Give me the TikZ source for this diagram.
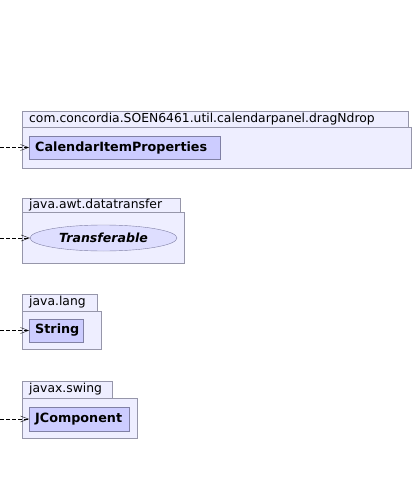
\documentclass[tikz,border=0pt]{standalone}
\usepackage{xcolor}
\usepackage{fontspec}
\setmainfont{DejaVu Sans}
\usetikzlibrary{arrows.meta,shapes.geometric}

\definecolor{pkgfill}{RGB}{238,238,255}
\definecolor{pkgline}{RGB}{150,150,170}
\definecolor{clsfill}{RGB}{204,204,255}
\definecolor{clsline}{RGB}{128,128,165}
\definecolor{ififill}{RGB}{222,222,255}

\tikzset{
  pkgtab/.style={draw=pkgline, fill=pkgfill},
  pkgbody/.style={draw=pkgline, fill=pkgfill},
  pkglabel/.style={inner sep=0pt, anchor=west, font=\fontsize{12.4}{13}\selectfont},
  classbox/.style={draw=clsline, fill=clsfill, inner xsep=6bp, inner ysep=0pt,
    anchor=west, align=left, font=\fontsize{12.8}{14}\selectfont\bfseries},
  ifacebox/.style={ellipse, draw=clsline, fill=ififill, inner sep=0pt,
    font=\fontsize{12.6}{14}\selectfont\bfseries\itshape},
  dep/.style={dashed, dash pattern=on 4bp off 2bp, black,
    -{Straight Barb[length=8bp,width=6bp]}}
}

\begin{document}
\begin{tikzpicture}[x=1bp, y=-1bp]
\useasboundingbox (0,0) rectangle (413,484);

%\draw[help lines] (0,0) grid (413,484);

% calendarpanel.dragNdrop
\draw[pkgtab] (22,111) rectangle (408,127);
\draw[pkgbody] (22,127) rectangle (411,168);
\node[pkglabel] (dndname) at (29,119.5) {com.concordia.SOEN6461.util.calendarpanel.dragNdrop};
\node[classbox, text width=179bp, minimum height=23bp] (calitem) at (29,147.5) {CalendarItemProperties};
\coordinate (src1) at (0,147.5);
\draw[dep] (src1) -- (calitem.west);

% java.awt.datatransfer
\draw[pkgtab] (22,198) rectangle (180,212);
\draw[pkgbody] (22,212) rectangle (184,263);
\node[pkglabel] (awtname) at (29,205.5) {java.awt.datatransfer};
\node[ifacebox, minimum width=147bp, minimum height=26bp] (transfer) at (103.5,238) {Transferable};
\coordinate (src2) at (0,238);
\draw[dep] (src2) -- (transfer.west);

% java.lang
\draw[pkgtab] (22,294) rectangle (97,311);
\draw[pkgbody] (22,311) rectangle (101,349);
\node[pkglabel] (langname) at (29,302.5) {java.lang};
\node[classbox, text width=42bp, minimum height=23bp] (string) at (29,330.5) {String};
\coordinate (src3) at (0,330.5);
\draw[dep] (src3) -- (string.west);

% javax.swing
\draw[pkgtab] (22,381) rectangle (112,398);
\draw[pkgbody] (22,398) rectangle (137,438);
\node[pkglabel] (swingname) at (29,389.5) {javax.swing};
\node[classbox, text width=88bp, minimum height=24bp] (jcomp) at (29,419) {JComponent};
\coordinate (src4) at (0,419);
\draw[dep] (src4) -- (jcomp.west);

\end{tikzpicture}
\end{document}
